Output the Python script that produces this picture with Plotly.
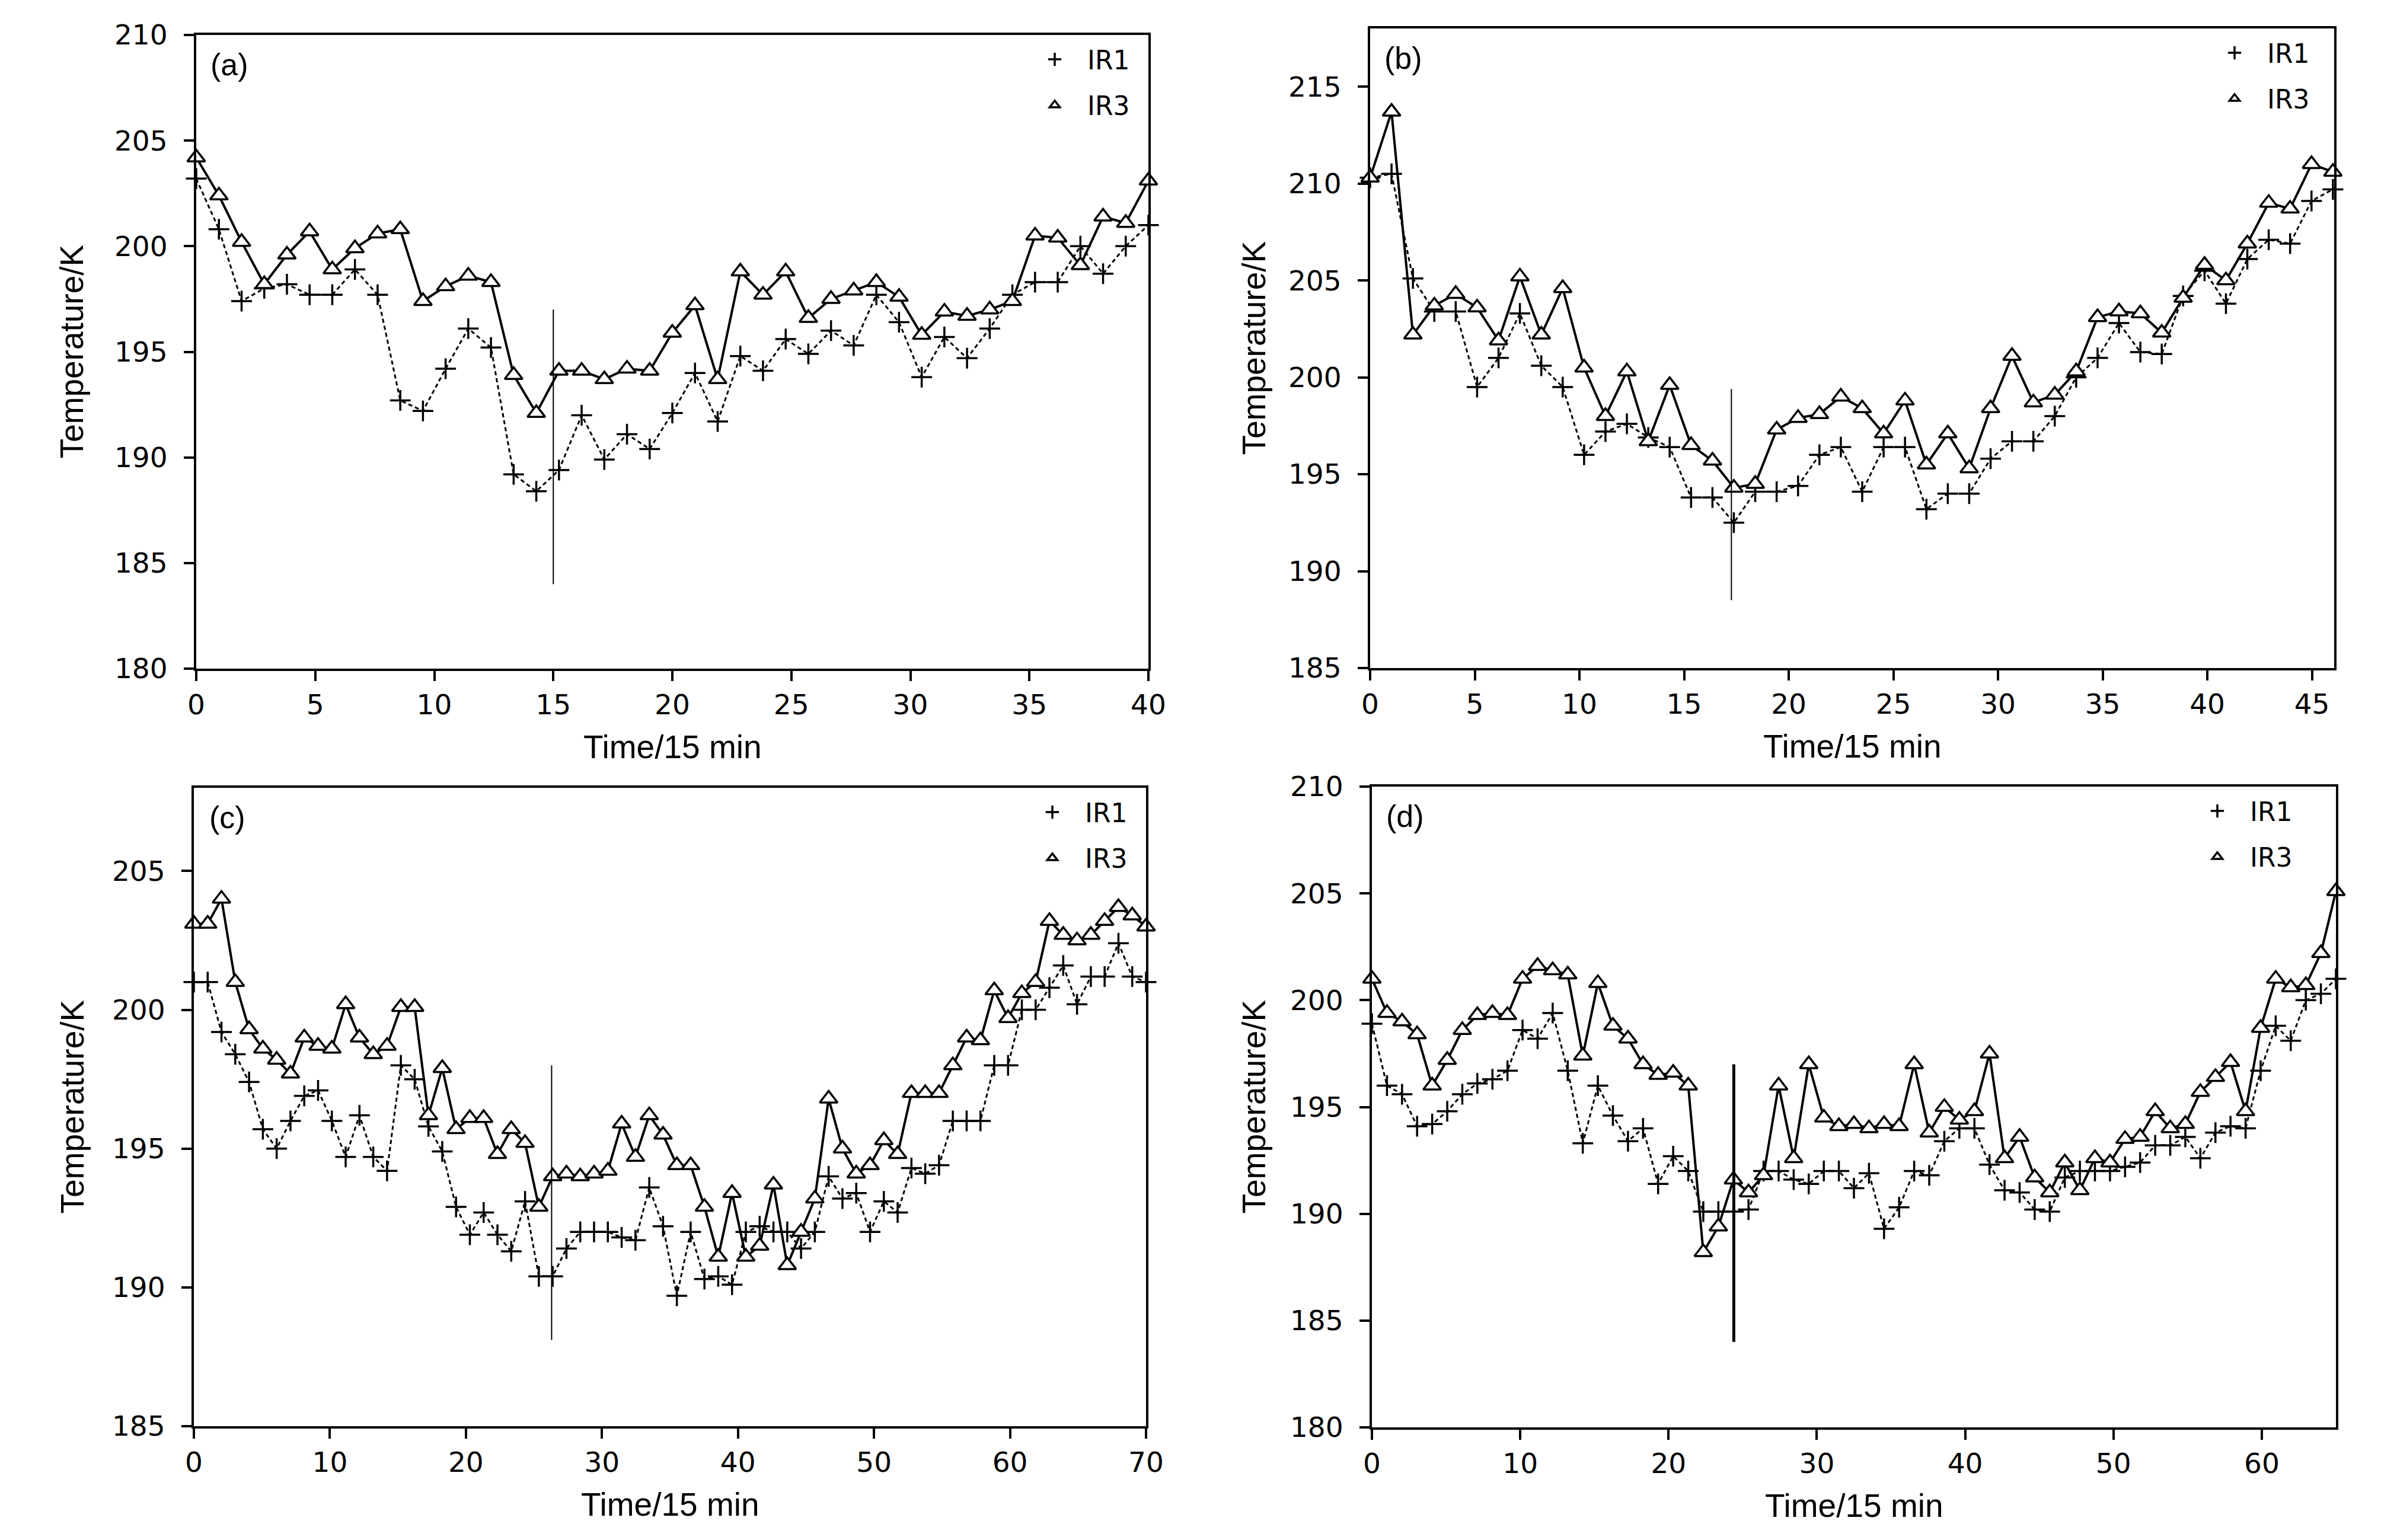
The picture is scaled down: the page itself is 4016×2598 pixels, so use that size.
import numpy as np
import plotly.graph_objects as go

W, H = 4016, 2598
OFF = 8  # page body margin compensation (px)

# ---------------- data ----------------
# sample times (Time/15 min), evenly spaced samples in each panel
time_a = np.linspace(0, 40, 43)
time_b = np.linspace(0, 46, 46)
time_c = np.linspace(0, 70, 70)
time_d = np.linspace(0, 65, 65)

ir1_a = [203.2, 200.8, 197.4, 198.0, 198.2, 197.7, 197.7, 198.9, 197.7, 192.7,
         192.2, 194.2, 196.1, 195.2, 189.2, 188.4, 189.4, 192.0, 189.9, 191.1,
         190.4, 192.1, 194.0, 191.7, 194.8, 194.1, 195.6, 194.9, 196.0, 195.3,
         197.7, 196.4, 193.8, 195.7, 194.7, 196.1, 197.7, 198.3, 198.3, 200.0,
         198.7, 200.0, 201.0]
ir3_a = [204.2, 202.4, 200.2, 198.2, 199.6, 200.7, 198.9, 199.9, 200.6, 200.8,
         197.4, 198.1, 198.6, 198.3, 193.9, 192.1, 194.1, 194.1, 193.7, 194.2,
         194.1, 195.9, 197.2, 193.7, 198.8, 197.7, 198.8, 196.6, 197.5, 197.9,
         198.3, 197.6, 195.8, 196.9, 196.7, 197.0, 197.4, 200.5, 200.4, 199.1,
         201.4, 201.1, 203.1]

ir1_b = [210.3, 210.5, 205.1, 203.4, 203.4, 199.5, 201.0, 203.3, 200.6, 199.5,
         196.0, 197.2, 197.6, 196.9, 196.4, 193.8, 193.8, 192.5, 194.1, 194.1,
         194.4, 196.0, 196.4, 194.1, 196.4, 196.4, 193.2, 194.0, 194.0, 195.8,
         196.7, 196.7, 198.0, 200.0, 201.0, 202.8, 201.3, 201.2, 204.2, 205.5,
         203.8, 206.1, 207.1, 206.9, 209.1, 209.7]
ir3_b = [210.3, 213.7, 202.2, 203.7, 204.3, 203.6, 201.9, 205.2, 202.2, 204.6,
         200.5, 198.0, 200.3, 196.7, 199.6, 196.5, 195.7, 194.3, 194.5, 197.3,
         197.9, 198.1, 199.0, 198.4, 197.1, 198.8, 195.5, 197.1, 195.3, 198.4,
         201.1, 198.7, 199.1, 200.3, 203.1, 203.4, 203.3, 202.3, 204.1, 205.8,
         205.0, 206.9, 209.0, 208.7, 211.0, 210.6]

ir1_c = [201.0, 201.0, 199.2, 198.4, 197.4, 195.7, 195.0, 196.0, 196.9, 197.1,
         196.0, 194.7, 196.2, 194.7, 194.2, 198.0, 197.5, 195.8, 194.9, 192.9,
         191.9, 192.7, 191.9, 191.3, 193.1, 190.4, 190.4, 191.4, 192.0, 192.0,
         192.0, 191.8, 191.7, 193.6, 192.2, 189.7, 192.0, 190.3, 190.4, 190.1,
         192.0, 192.2, 192.0, 192.0, 191.4, 192.0, 194.0, 193.2, 193.4, 192.0,
         193.1, 192.7, 194.3, 194.1, 194.4, 196.0, 196.0, 196.0, 198.0, 198.0,
         200.0, 200.0, 200.8, 201.6, 200.2, 201.2, 201.2, 202.4, 201.2, 201.0]
ir3_c = [203.1, 203.1, 204.0, 201.0, 199.3, 198.6, 198.2, 197.7, 199.0, 198.7,
         198.6, 200.2, 199.0, 198.4, 198.7, 200.1, 200.1, 196.2, 197.9, 195.7,
         196.1, 196.1, 194.8, 195.7, 195.2, 192.9, 194.0, 194.1, 194.0, 194.1,
         194.2, 195.9, 194.7, 196.2, 195.5, 194.4, 194.4, 192.9, 191.1, 193.4,
         191.1, 191.5, 193.7, 190.8, 192.0, 193.2, 196.8, 195.0, 194.1, 194.4,
         195.3, 194.8, 197.0, 197.0, 197.0, 198.0, 199.0, 198.9, 200.7, 199.7,
         200.6, 201.0, 203.2, 202.7, 202.5, 202.7, 203.2, 203.7, 203.4, 203.0]

ir1_d = [198.9, 196.0, 195.6, 194.1, 194.2, 194.8, 195.6, 196.1, 196.3, 196.7,
         198.6, 198.2, 199.4, 196.7, 193.3, 196.0, 194.6, 193.4, 194.0, 191.4,
         192.7, 192.0, 190.1, 190.1, 190.1, 190.2, 192.0, 192.0, 191.6, 191.4,
         192.0, 192.0, 191.2, 191.9, 189.3, 190.3, 192.0, 191.8, 193.4, 194.0,
         194.0, 192.3, 191.1, 191.0, 190.2, 190.1, 191.7, 192.0, 192.0, 192.0,
         192.2, 192.4, 193.2, 193.2, 193.6, 192.6, 193.8, 194.1, 194.0, 196.7,
         198.8, 198.1, 200.0, 200.3, 201.0]
ir3_d = [201.0, 199.4, 199.0, 198.4, 196.0, 197.2, 198.6, 199.3, 199.4, 199.3,
         201.0, 201.6, 201.4, 201.2, 197.4, 200.8, 198.8, 198.2, 197.0, 196.5,
         196.6, 196.0, 188.2, 189.4, 191.6, 191.0, 191.8, 196.0, 192.6, 197.0,
         194.5, 194.1, 194.2, 194.0, 194.2, 194.1, 197.0, 193.8, 195.0, 194.4,
         194.8, 197.5, 192.6, 193.6, 191.7, 191.0, 192.4, 191.1, 192.6, 192.4,
         193.5, 193.6, 194.8, 194.0, 194.2, 195.7, 196.4, 197.1, 194.8, 198.7,
         201.0, 200.6, 200.7, 202.2, 205.1]

# vertical marker lines: time and temperature span
vline_time = {"a": 15.0, "b": 17.26, "c": 26.3, "d": 24.4}
vline_span = {"a": [184.0, 197.0], "b": [188.5, 199.4], "c": [188.1, 198.0], "d": [184.0, 197.0]}

panel_labels = ["(a)", "(b)", "(c)", "(d)"]
series_names = ["IR1", "IR3"]
x_title = "Time/15 min"
y_title = "Temperature/K"

# ---------------- layout geometry (pixels) ----------------
panels = [
    dict(k="a", s="", t=time_a, ir1=ir1_a, ir3=ir3_a, box=(331, 1937, 59, 1128),
         xr=[0, 40], yr=[180, 210], dx=5, vw=2, ytx=121, legdx=213),
    dict(k="b", s="2", t=time_b, ir1=ir1_b, ir3=ir3_b, box=(2311, 3937, 48, 1127),
         xr=[0, 46.06], yr=[185, 218], dx=5, vw=2, ytx=2114, legdx=223),
    dict(k="c", s="3", t=time_c, ir1=ir1_c, ir3=ir3_c, box=(327, 1933, 1329, 2406),
         xr=[0, 70], yr=[185, 208], dx=10, vw=2, ytx=121, legdx=213),
    dict(k="d", s="4", t=time_d, ir1=ir1_d, ir3=ir3_d, box=(2314, 3940, 1327, 2408),
         xr=[0, 65], yr=[180, 210], dx=10, vw=5, ytx=2114, legdx=255),
]

TICK_FONT = dict(family="DejaVu Sans", size=47, color="black")
TITLE_FONT = dict(family="Liberation Sans, Arial", size=55, color="black")

fig = go.Figure()
layout = dict(width=W, height=H, margin=dict(l=0, r=0, t=0, b=0, autoexpand=False),
              paper_bgcolor="white", plot_bgcolor="white", annotations=[])

for i, p in enumerate(panels):
    xa = "x" + p["s"]
    ya = "y" + p["s"]
    leg = "legend" + p["s"]
    l, r, t, b = [v - OFF for v in p["box"]]
    fig.add_trace(go.Scatter(
        x=p["t"], y=p["ir1"], mode="lines+markers", name="IR1", showlegend=False,
        xaxis=xa, yaxis=ya, cliponaxis=False,
        line=dict(color="black", width=3, dash="7px,5px"),
        marker=dict(symbol="cross-thin-open", size=25, color="black",
                    line=dict(color="black", width=3.5))))
    fig.add_trace(go.Scatter(
        x=p["t"], y=p["ir3"], mode="lines+markers", name="IR3", showlegend=False,
        xaxis=xa, yaxis=ya, cliponaxis=False,
        line=dict(color="black", width=4),
        marker=dict(symbol="triangle-up", size=26, color="white",
                    line=dict(color="black", width=3.5))))
    # vertical line
    fig.add_trace(go.Scatter(
        x=[vline_time[p["k"]]] * 2, y=vline_span[p["k"]], mode="lines",
        showlegend=False, xaxis=xa, yaxis=ya, hoverinfo="skip",
        line=dict(color="black", width=p["vw"])))
    # legend entries (markers only)
    fig.add_trace(go.Scatter(
        x=[None], y=[None], mode="markers", name=series_names[0], legend=leg,
        legendgroup="g1" + p["k"], xaxis=xa, yaxis=ya,
        marker=dict(symbol="cross-thin-open", size=16, color="black",
                    line=dict(color="black", width=3.5))))
    fig.add_trace(go.Scatter(
        x=[None], y=[None], mode="markers", name=series_names[1], legend=leg,
        legendgroup="g3" + p["k"], xaxis=xa, yaxis=ya,
        marker=dict(symbol="triangle-up", size=15, color="white",
                    line=dict(color="black", width=3.5))))

    xdom = [l / W, r / W]
    ydom = [1 - b / H, 1 - t / H]
    axis_common = dict(showline=True, linecolor="black", linewidth=4, mirror=True,
                       ticks="outside", ticklen=17, tickwidth=4, tickcolor="black",
                       showgrid=False, zeroline=False, tickfont=TICK_FONT,
                       automargin=False, fixedrange=True)
    layout["xaxis" + p["s"]] = dict(axis_common, domain=xdom, range=p["xr"], dtick=p["dx"],
                                   tick0=0, anchor=ya)
    layout["yaxis" + p["s"]] = dict(axis_common, domain=ydom, range=p["yr"], dtick=5,
                                   tick0=0, anchor=xa, ticklabelstandoff=18)
    layout[leg] = dict(x=(r - p["legdx"]) / W, y=1 - (t + 6) / H, xanchor="left", yanchor="top",
                       bgcolor="rgba(0,0,0,0)", borderwidth=0,
                       font=dict(family="DejaVu Sans", size=44, color="black"),
                       itemwidth=100, tracegroupgap=17, traceorder="grouped")
    # panel label
    layout["annotations"].append(dict(
        text=panel_labels[i], xref=xa + " domain", yref=ya + " domain",
        x=56 / (r - l), y=1 - 50 / (b - t), xanchor="center", yanchor="middle",
        showarrow=False, font=dict(family="Liberation Sans, Arial", size=52, color="black")))
    # axis titles
    layout["annotations"].append(dict(
        text=x_title, xref="paper", yref="paper",
        x=(l + r) / 2 / W, y=1 - (b + 132) / H, xanchor="center", yanchor="middle",
        showarrow=False, font=TITLE_FONT))
    layout["annotations"].append(dict(
        text=y_title, xref="paper", yref="paper", textangle=-90,
        x=(p["ytx"] - OFF) / W, y=1 - (t + b) / 2 / H, xanchor="center", yanchor="middle",
        showarrow=False, font=TITLE_FONT))

fig.update_layout(**layout)
fig.write_html("out.html")
